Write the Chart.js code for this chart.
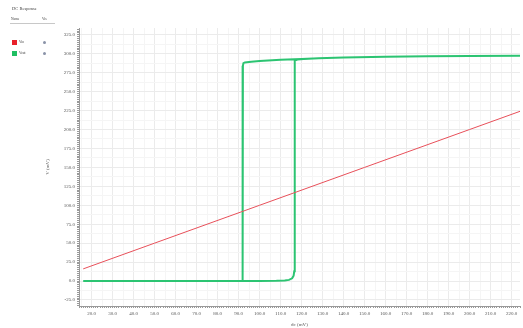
<!DOCTYPE html>
<html>
<head>
<meta charset="utf-8">
<title>DC Response</title>
<script src="https://cdn.jsdelivr.net/npm/chart.js@4.4.1/dist/chart.umd.min.js"></script>
<style>
  html, body { margin: 0; padding: 0; background: #fff; }
  #wrap { position: relative; width: 523px; height: 328px; overflow: hidden; }
  #plot { position: absolute; left: 0; top: 0; }
  .lg { position: absolute; font-family: "Liberation Serif", serif; color: #444; white-space: nowrap; line-height: 1; }
  .sw { position: absolute; width: 5px; height: 5px; }
  .vis { position: absolute; width: 3px; height: 3px; border-radius: 50%; background: #8a93a8; }
</style>
</head>
<body>
<div id="wrap">
  <canvas id="plot" width="523" height="328"></canvas>
  <div class="lg" style="left:12px;top:7px;font-size:4.5px;">DC Response</div>
  <div class="lg" style="left:11px;top:18px;font-size:3.5px;">Name</div>
  <div class="lg" style="left:42px;top:18px;font-size:3.5px;">Vis</div>
  <div style="position:absolute;left:10px;top:23px;width:45px;height:1px;background:#c8c8c8;"></div>
  <div class="sw" style="left:12px;top:40px;background:#e8202a;"></div>
  <div class="lg" style="left:19px;top:41px;font-size:3.5px;">Vin</div>
  <div class="vis" style="left:43px;top:41px;"></div>
  <div class="sw" style="left:12px;top:51px;background:#1fbf62;"></div>
  <div class="lg" style="left:19px;top:52px;font-size:3.5px;">Vout</div>
  <div class="vis" style="left:43px;top:52px;"></div>
</div>
<script>
// Swept input (dc, mV) and the input voltage itself
const vinDc = [16, 50, 100, 150, 200, 224];
const vinMv = [16, 50, 100, 150, 200, 224];

// Output of the hysteresis comparator: rising sweep, then falling sweep
const voutDc = [16, 40, 60, 80, 100, 108, 112, 114, 115.5, 116.2, 116.5, 116.65, 116.7, 116.75, 116.85, 118, 121, 128, 140, 160, 180, 200, 224,
                200, 180, 160, 140, 128, 120, 110, 100, 96, 93, 92.3, 92.05, 91.95, 91.9, 91.88, 80, 60, 40, 16];
const voutMv = [0, 0, 0, 0, 0, 0.2, 0.6, 1.5, 3.5, 7, 13, 30, 120, 270, 291, 292.4, 293, 294, 295, 296, 296.6, 297, 297.5,
                297, 296.6, 296, 295, 294, 293, 292, 290.5, 289.5, 288.5, 287.5, 284, 250, 100, 0, 0, 0, 0, 0];

// Labelled axis ticks
const xMajorTicks = [20, 30, 40, 50, 60, 70, 80, 90, 100, 110, 120, 130, 140, 150, 160, 170, 180, 190, 200, 210, 220];
const yMajorTicks = [-25, 0, 25, 50, 75, 100, 125, 150, 175, 200, 225, 250, 275, 300, 325];

const X_MIN = 14, X_MAX = 224, Y_MIN = -33, Y_MAX = 334;

function rulerTicks(min, max, step) {
  const out = [];
  for (let v = Math.ceil(min / step) * step; v <= max + 1e-9; v += step) out.push({ value: Math.round(v * 100) / 100 });
  return out;
}

const axisFont = { family: "Liberation Serif", size: 5 };

new Chart(document.getElementById('plot'), {
  type: 'scatter',
  data: {
    datasets: [
      {
        label: 'Vin',
        data: vinDc.map((x, i) => ({ x, y: vinMv[i] })),
        showLine: true, borderColor: '#e8505a', borderWidth: 1, pointRadius: 0, tension: 0
      },
      {
        label: 'Vout',
        data: voutDc.map((x, i) => ({ x, y: voutMv[i] })),
        showLine: true, borderColor: '#2cc472', borderWidth: 2, pointRadius: 0, tension: 0
      }
    ]
  },
  options: {
    responsive: false,
    devicePixelRatio: 1,
    animation: false,
    events: [],
    layout: { padding: { left: 45, top: 28, right: 0, bottom: 0 } },
    plugins: { legend: { display: false }, tooltip: { enabled: false } },
    scales: {
      x: {
        type: 'linear', position: 'bottom', min: X_MIN, max: X_MAX,
        afterBuildTicks: s => { s.ticks = rulerTicks(X_MIN, X_MAX, 1); },
        afterFit: s => { s.height = 22; },
        grid: {
          color: c => (c.tick.value % 10 === 0 ? '#ebebeb' : (c.tick.value % 5 === 0 ? '#f5f5f5' : 'rgba(0,0,0,0)')),
          tickColor: '#999', tickLength: 2, lineWidth: 1
        },
        border: { color: '#999' },
        ticks: {
          autoSkip: false, maxRotation: 0, padding: 3, color: '#555', font: axisFont,
          callback: v => (xMajorTicks.includes(v) ? v.toFixed(1) : '')
        },
        title: { display: true, text: 'dc (mV)', color: '#555', font: axisFont, padding: 0 }
      },
      y: {
        type: 'linear', position: 'left', min: Y_MIN, max: Y_MAX,
        afterBuildTicks: s => { s.ticks = rulerTicks(Y_MIN, Y_MAX, 2.5); },
        afterFit: s => { s.width = 34; },
        grid: {
          color: c => (c.tick.value % 25 === 0 ? '#ebebeb' : (c.tick.value % 12.5 === 0 ? '#f5f5f5' : 'rgba(0,0,0,0)')),
          tickColor: '#999', tickLength: 2, lineWidth: 1
        },
        border: { color: '#999' },
        ticks: {
          autoSkip: false, padding: 2, color: '#555', font: axisFont,
          callback: v => (yMajorTicks.includes(v) ? v.toFixed(1) : '')
        },
        title: { display: true, text: 'V (mV)', color: '#555', font: axisFont, padding: 0 }
      }
    }
  }
});
</script>
</body>
</html>
